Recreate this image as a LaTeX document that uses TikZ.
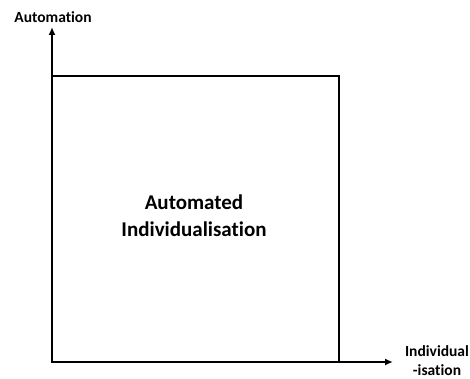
\documentclass[tikz,border=0pt]{standalone}
\usepackage{fontspec}
\setmainfont{Carlito}[Ligatures=CommonOff]
\usetikzlibrary{positioning,arrows.meta}
\tikzset{
  axis/.style={-{Latex[length=8pt,width=7pt]}, line width=2.8pt},
  region/.style={draw, line width=2.5pt},
  axislabel/.style={font=\fontsize{15.5}{19.5}\selectfont\bfseries, align=center, inner sep=0pt},
  centerlabel/.style={font=\fontsize{21}{27}\selectfont\bfseries, align=center, inner sep=0pt},
}
\begin{document}
\begin{tikzpicture}[x=1pt, y=1pt]
  \useasboundingbox (0,0) rectangle (470,379);
  \coordinate (origin) at (52,17);
  \coordinate (ytip) at (52,352);
  \coordinate (xtip) at (393,17);
  \coordinate (corner) at (339,303);

  \draw[region] (origin) rectangle (corner);
  \draw[axis] (origin) -- (ytip);
  \draw[axis] (origin) -- (xtip);

  \node[axislabel] (automation) at (53,362) {Automation};
  \node[axislabel] (individual) at (437,18.5) {Individual\\-isation};
  \node[centerlabel] (autoindiv) at (194,163) {Automated\\Individualisation};

\end{tikzpicture}
\end{document}
